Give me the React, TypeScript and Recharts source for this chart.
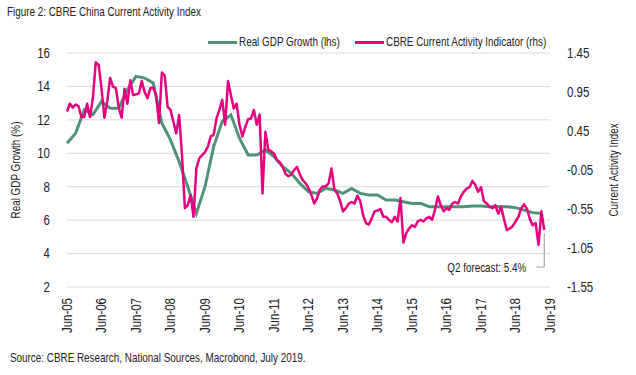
import { LineChart, Line, XAxis, YAxis, CartesianGrid, Label } from "recharts";

const FONT = "'Liberation Sans', Arial, sans-serif";
const GREEN = "#4E9279";
const PINK = "#E6007E";
const TEXT = "#222";
const SQUEEZE = 0.76; // narrow the text, the original uses a condensed face
const TICK_SQUEEZE = 0.82;

// quarterly real GDP growth (%), Jun-05 .. Mar-19
const gdpGrowth = [
    10.6, 11.2, 12.6, 12.3, 13.1, 12.7, 12.7, 13.8, 14.6, 14.5,
    14.2, 11.8, 10.8, 9.5, 8.0, 6.4, 8.0, 10.4, 11.9, 12.3,
    10.9, 9.9, 9.9, 10.2, 9.8, 9.2, 8.8, 8.2, 7.7, 7.6,
    7.9, 7.8, 7.6, 7.9, 7.6, 7.5, 7.5, 7.2, 7.2, 7.1,
    7.0, 7.0, 6.8, 6.8, 6.8, 6.8, 6.8, 6.85, 6.85, 6.8,
    6.8, 6.8, 6.75, 6.6, 6.45, 6.4,
];

// monthly CBRE current activity indicator, Jun-05 .. Apr-19
const caiIndex = [
    0.70, 0.80, 0.75, 0.79, 0.77, 0.63, 0.63, 0.80, 0.63, 0.87,
    1.33, 1.30, 1.00, 0.62, 0.83, 1.13, 1.02, 1.00, 0.75, 0.62,
    0.99, 0.80, 1.10, 0.91, 0.92, 0.93, 1.09, 0.95, 0.87, 1.00,
    1.00, 0.91, 0.55, 1.20, 1.16, 0.76, 0.72, 0.57, 0.42, 0.655,
    0.14, -0.54, -0.50, -0.37, -0.65, -0.03, 0.10, 0.14, 0.18, 0.25,
    0.38, 0.40, 0.61, 0.72, 0.85, 0.53, 1.09, 0.91, 0.74, 0.80,
    0.53, 0.38, 0.50, 0.60, 0.61, 0.72, 0.53, 0.66, -0.35, 0.44,
    0.21, 0.19, 0.16, 0.08, 0.05, -0.01, -0.10, -0.13, -0.11, -0.05,
    -0.01, -0.11, -0.18, -0.22, -0.28, -0.37, -0.48, -0.41, -0.30, -0.26,
    -0.26, -0.22, -0.03, -0.30, -0.35, -0.45, -0.58, -0.54, -0.48, -0.46,
    -0.48, -0.38, -0.45, -0.63, -0.73, -0.75, -0.67, -0.58, -0.57, -0.55,
    -0.65, -0.65, -0.69, -0.72, -0.65, -0.71, -0.41, -0.98, -0.86, -0.80,
    -0.76, -0.78, -0.71, -0.69, -0.71, -0.67, -0.65, -0.69, -0.56, -0.39,
    -0.50, -0.58, -0.54, -0.56, -0.48, -0.46, -0.48, -0.39, -0.33, -0.29,
    -0.27, -0.19, -0.24, -0.33, -0.27, -0.45, -0.48, -0.52, -0.54, -0.50,
    -0.61, -0.52, -0.68, -0.82, -0.80, -0.77, -0.71, -0.65, -0.54, -0.49,
    -0.55, -0.68, -0.76, -0.73, -1.01, -0.58, -0.82,
];

const xTickLabels = [
    "Jun-05", "Jun-06", "Jun-07", "Jun-08", "Jun-09", "Jun-10", "Jun-11", "Jun-12",
    "Jun-13", "Jun-14", "Jun-15", "Jun-16", "Jun-17", "Jun-18", "Jun-19",
];
const leftTicks = [2, 4, 6, 8, 10, 12, 14, 16];
const rightTicks = [-1.55, -1.05, -0.55, -0.05, 0.45, 0.95, 1.45];
const forecastNote = "Q2 forecast: 5.4%";

const xTicks = xTickLabels.map((_, i) => i * 12);
const rows = caiIndex.map((v, i) => ({
    m: i,
    cai: v,
    gdp: i % 3 === 0 && gdpGrowth[i / 3] !== undefined ? gdpGrowth[i / 3] : null,
}));

function XTick({ x, y, payload }: any) {
    return (
        <text transform={`translate(${x},${y}) rotate(-90) scale(${TICK_SQUEEZE},1)`} textAnchor="end" dy="0.35em"
            fontSize={14} fill={TEXT} fontFamily={FONT}>
            {xTickLabels[payload.index] ?? ""}
        </text>
    );
}

function YTick({ x, y, payload, textAnchor, fmt }: any) {
    return (
        <text transform={`translate(${x},${y}) scale(${TICK_SQUEEZE},1)`} textAnchor={textAnchor} dy="0.35em"
            fontSize={14} fill={TEXT} fontFamily={FONT}>
            {fmt ? fmt(payload.value) : payload.value}
        </text>
    );
}

function AxisTitle({ viewBox, value, side }: any) {
    const cx = side === "left" ? viewBox.x + 5 : viewBox.x + viewBox.width - 7;
    const cy = viewBox.y + viewBox.height / 2;
    return (
        <text transform={`translate(${cx},${cy}) rotate(-90) scale(${SQUEEZE},1)`} textAnchor="middle" dy="0.35em"
            fontSize={13} fill={TEXT} fontFamily={FONT}>
            {value}
        </text>
    );
}

function ForecastLabel({ x, y, index }: any) {
    if (index !== caiIndex.length - 1) return null;
    return (
        <g>
            <polyline points={`${x},${y + 3} ${x},${y + 37} ${x - 8},${y + 37}`} fill="none" stroke="#999" strokeWidth={1} />
            <text transform={`translate(${x - 18},${y + 37}) scale(${SQUEEZE},1)`} dy="0.35em" textAnchor="end"
                fontSize={13} fill={TEXT} fontFamily={FONT}>
                {forecastNote}
            </text>
        </g>
    );
}

const squeezed = (left: number, top: number): any => ({
    position: "absolute",
    left,
    top,
    fontSize: 13,
    whiteSpace: "nowrap",
    transform: `scaleX(${SQUEEZE})`,
    transformOrigin: "left center",
});

export default function App() {
    return (
        <div style={{ position: "absolute", left: 0, top: 0, width: 636, height: 375, background: "#fff", fontFamily: FONT, color: TEXT }}>
            <div style={squeezed(7, 4)}>Figure 2: CBRE China Current Activity Index</div>

            {/* legend */}
            <div style={{ position: "absolute", left: 208, top: 41, width: 29, height: 3, background: GREEN }} />
            <div style={squeezed(239, 34)}>Real GDP Growth (lhs)</div>
            <div style={{ position: "absolute", left: 355, top: 41, width: 29, height: 3, background: PINK }} />
            <div style={squeezed(386, 34)}>CBRE Current Activity Indicator (rhs)</div>

            <LineChart width={636} height={340} data={rows} margin={{ top: 53, right: 16, bottom: 8, left: 10 }}>
                <CartesianGrid horizontal vertical={false} stroke="#d9d9d9" yAxisId="left" />
                <XAxis
                    dataKey="m"
                    type="number"
                    domain={[0, 168]}
                    ticks={xTicks}
                    interval={0}
                    axisLine={false}
                    tickLine={false}
                    tickSize={0}
                    tickMargin={11}
                    height={45}
                    tick={<XTick />}
                />
                <YAxis
                    yAxisId="left"
                    domain={[2, 16]}
                    ticks={leftTicks}
                    interval={0}
                    axisLine={false}
                    tickLine={false}
                    tickSize={0}
                    tickMargin={17}
                    width={57}
                    tick={<YTick />}
                >
                    <Label value="Real GDP Growth (%)" content={<AxisTitle side="left" />} />
                </YAxis>
                <YAxis
                    yAxisId="right"
                    orientation="right"
                    domain={[-1.55, 1.45]}
                    ticks={rightTicks}
                    interval={0}
                    axisLine={false}
                    tickLine={false}
                    tickSize={0}
                    tickMargin={17}
                    width={70}
                    tick={<YTick fmt={(v: number) => v.toFixed(2)} />}
                >
                    <Label value="Current Activity Index" content={<AxisTitle side="right" />} />
                </YAxis>
                <Line
                    yAxisId="left"
                    dataKey="gdp"
                    stroke={GREEN}
                    strokeWidth={3}
                    dot={false}
                    connectNulls
                    isAnimationActive={false}
                />
                <Line
                    yAxisId="right"
                    dataKey="cai"
                    stroke={PINK}
                    strokeWidth={2.5}
                    strokeLinejoin="round"
                    dot={false}
                    label={<ForecastLabel />}
                    isAnimationActive={false}
                />
            </LineChart>

            <div style={squeezed(10, 350)}>Source: CBRE Research, National Sources, Macrobond, July 2019.</div>
        </div>
    );
}
